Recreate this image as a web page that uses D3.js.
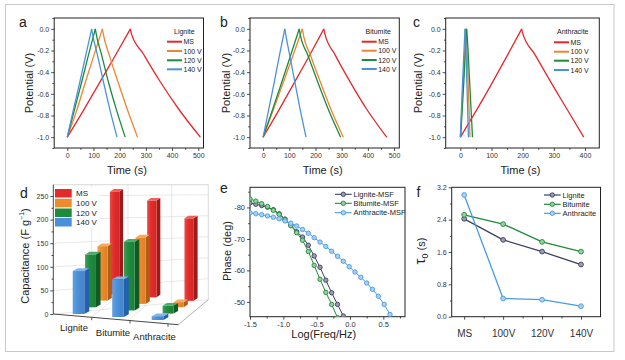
<!DOCTYPE html>
<html><head><meta charset="utf-8">
<script src="https://cdn.jsdelivr.net/npm/d3@7"></script>
<style>body{margin:0;background:#fff}</style>
</head><body>
<svg id="c" width="625" height="360" xmlns="http://www.w3.org/2000/svg"></svg>
<script>
// ---------------- DATA ----------------
const gcdLabels = ["MS", "100 V", "120 V", "140 V"];
// [time (s), potential (V)]
const ligMS  = [[0,-1],[60,-0.76],[120,-0.51],[180,-0.26],[241,0],[244,-0.04],[290,-0.23],[350,-0.47],[425,-0.74],[508,-1]];
const lig100 = [[0,-1],[35,-0.76],[68,-0.5],[101,-0.25],[134,0],[136,-0.03],[160,-0.24],[195,-0.5],[230,-0.75],[268,-1]];
const lig120 = [[0,-1],[27,-0.75],[54,-0.5],[80,-0.25],[107,0],[109,-0.03],[131,-0.24],[158,-0.5],[188,-0.75],[221,-1]];
const lig140 = [[0,-1],[23,-0.75],[47,-0.5],[70,-0.25],[93,0],[95,-0.03],[115,-0.24],[139,-0.5],[163,-0.75],[190,-1]];
const bitMS  = [[0,-1],[58,-0.76],[116,-0.51],[174,-0.26],[232,0],[235,-0.04],[275,-0.24],[330,-0.48],[395,-0.74],[472,-1]];
const bit100 = [[0,-1],[37,-0.76],[75,-0.51],[112,-0.26],[150,0],[152,-0.03],[182,-0.25],[220,-0.5],[260,-0.75],[306,-1]];
const bit120 = [[0,-1],[34,-0.76],[69,-0.51],[103,-0.26],[138,0],[140,-0.03],[172,-0.25],[210,-0.5],[250,-0.75],[296,-1]];
const bit140 = [[0,-1],[21,-0.75],[42,-0.5],[62,-0.25],[83,0],[85,-0.03],[102,-0.25],[122,-0.5],[142,-0.75],[164,-1]];
const antMS  = [[0,-1],[50,-0.76],[100,-0.51],[150,-0.25],[197,0],[199,-0.03],[240,-0.24],[290,-0.49],[342,-0.74],[396,-1]];
const ant100 = [[0,-1],[9,-0.5],[18,0],[19,-0.03],[25,-0.5],[31,-1]];
const ant120 = [[1,-1],[11,-0.5],[20,0],[21,-0.03],[30,-0.5],[39,-1]];
const ant140 = [[0,-1],[7,-0.5],[15,0],[16,-0.03],[21,-0.5],[26,-1]];

// Panel d: specific capacitance (F g-1)
const capCategories = ["Lignite", "Bitumite", "Anthracite"];
const capSeries = ["MS", "100 V", "120 V", "140 V"];
const capMS  = [264, 250, 213];
const cap100 = [131, 160, 12];
const cap120 = [119, 155, 18];
const cap140 = [91, 80, 8];

// Panel e: Bode phase [log(freq), phase deg]
const phaseLignite = [[-1.5,-81.4],[-1.4125,-81.0],[-1.325,-80.6],[-1.2375,-80.1],[-1.15,-79.3],[-1.0625,-78.0],[-0.975,-76.3],[-0.8875,-74.4],[-0.8,-72.3],[-0.7125,-70.6],[-0.625,-68.0],[-0.5375,-64.6],[-0.45,-61.0],[-0.3625,-56.9],[-0.275,-52.9],[-0.1875,-49.2],[-0.1,-45.5]];
const phaseBitumite = [[-1.5,-82.7],[-1.4125,-82.0],[-1.325,-81.2],[-1.2375,-80.3],[-1.15,-79.1],[-1.0625,-77.8],[-0.975,-76.2],[-0.8875,-74.2],[-0.8,-72.0],[-0.7125,-69.6],[-0.625,-66.0],[-0.5375,-61.6],[-0.45,-57.2],[-0.3625,-53.0],[-0.275,-49.2],[-0.1875,-45.0]];
const phaseAnthracite = [[-1.5,-78.3],[-1.4125,-78.0],[-1.325,-77.7],[-1.2375,-77.3],[-1.15,-76.9],[-1.0625,-76.4],[-0.975,-75.7],[-0.8875,-75.0],[-0.8,-74.1],[-0.7125,-73.0],[-0.625,-71.8],[-0.5375,-70.4],[-0.45,-69.0],[-0.3625,-67.6],[-0.275,-66.1],[-0.1875,-64.5],[-0.1,-62.9],[-0.0125,-61.2],[0.075,-59.5],[0.1625,-57.8],[0.25,-56.0],[0.3375,-54.0],[0.425,-51.8],[0.5125,-49.2],[0.6,-46.0]];
const phaseLabels = ["Lignite-MSF", "Bitumite-MSF", "Anthracite-MSF"];

// Panel f: relaxation time tau0 (s)
const tauCats = ["MS", "100V", "120V", "140V"];
const tauLignite = [2.42, 1.9, 1.61, 1.29];
const tauBitumite = [2.52, 2.29, 1.85, 1.61];
const tauAnthracite = [3.01, 0.45, 0.42, 0.26];
const tauLabels = ["Lignite", "Bitumite", "Anthracite"];

// ---------------- STYLE ----------------
const FONT = 'Arial, "Liberation Sans", Helvetica, sans-serif';
const gcdColors = ["#e5282c", "#ee8530", "#1e8a3b", "#4b93d8"];
const capFront = ["#e22b2a", "#ef8a2c", "#1e8b3c", "#4a8fd9"];
const capSide  = ["#a01818", "#b25c14", "#0f5a25", "#2460b0"];
const capTop   = ["#f06055", "#f5aa62", "#4aaa68", "#80b4ec"];
const eColors = ["#3d4060", "#23893a", "#4a9be2"];
const eFill = ["#9a9cb5", "#8fd39f", "#a8d0f4"];

const svg = d3.select("#c");
svg.append("rect").attr("x", 5.5).attr("y", 4.5).attr("width", 608.5).attr("height", 347)
  .attr("fill", "none").attr("stroke", "#c9c9c9").attr("stroke-width", 1);
const defs = svg.append("defs");

function txt(g, x, y, s, fs, anchor, extra) {
  const t = g.append("text").attr("x", x).attr("y", y).text(s)
    .attr("font-family", FONT).attr("font-size", fs).attr("fill", "#222")
    .attr("text-anchor", anchor || "start");
  return t;
}
function vtxt(g, x, y, s, fs) {
  return g.append("text").attr("transform", `translate(${x},${y}) rotate(-90)`)
    .attr("text-anchor", "middle").attr("dominant-baseline", "central")
    .attr("font-family", FONT).attr("font-size", fs).attr("fill", "#222").text(s);
}
function styleAxis(sel, fs) {
  sel.select(".domain").remove();
  sel.selectAll("line").attr("stroke", "#222").attr("stroke-width", 0.8);
  sel.selectAll("text").attr("font-size", fs).attr("fill", "#333").attr("font-family", FONT);
}
function axes(g, xs, ys, p) {
  const [x0, x1] = xs.range(); const [yb, yt] = ys.range();
  if (p.xMinor) g.append("g").attr("transform", `translate(0,${yb})`)
    .call(d3.axisBottom(xs).tickValues(p.xMinor).tickSize(1.8).tickFormat("")).call(s => styleAxis(s, p.fs));
  g.append("g").attr("transform", `translate(0,${yb})`)
    .call(d3.axisBottom(xs).tickValues(p.xMajor).tickSize(3).tickPadding(p.xPad || 2).tickFormat(p.xFmt))
    .call(s => styleAxis(s, p.xfs || p.fs));
  if (p.yMinor) g.append("g").attr("transform", `translate(${x0},0)`)
    .call(d3.axisLeft(ys).tickValues(p.yMinor).tickSize(1.8).tickFormat("")).call(s => styleAxis(s, p.fs));
  g.append("g").attr("transform", `translate(${x0},0)`)
    .call(d3.axisLeft(ys).tickValues(p.yMajor).tickSize(3).tickPadding(2).tickFormat(p.yFmt))
    .call(s => styleAxis(s, p.fs));
  g.append("rect").attr("x", x0).attr("y", yt).attr("width", x1 - x0).attr("height", yb - yt)
    .attr("fill", "none").attr("stroke", "#222").attr("stroke-width", 1);
}
let clipId = 0;
function clip(x0, y0, x1, y1) {
  const id = "clip" + (clipId++);
  defs.append("clipPath").attr("id", id).append("rect").attr("x", x0).attr("y", y0).attr("width", x1 - x0).attr("height", y1 - y0);
  return `url(#${id})`;
}
const f1 = v => v.toFixed(1);

// ---------------- PANELS a-c ----------------
function gcdPanel(cfg) {
  const g = svg.append("g");
  const xs = d3.scaleLinear().domain(cfg.xDomain).range([cfg.x0, cfg.x1]);
  const ys = d3.scaleLinear().domain([-1.1, 0.1]).range([148, 18]);
  axes(g, xs, ys, {
    xMajor: cfg.xMajor, xMinor: cfg.xMinor, xFmt: d3.format("d"),
    yMajor: [-1, -0.8, -0.6, -0.4, -0.2, 0], yMinor: [-1.1, -0.9, -0.7, -0.5, -0.3, -0.1, 0.1], yFmt: f1, fs: 7
  });
  const pg = g.append("g").attr("clip-path", clip(cfg.x0, 18, cfg.x1, 148));
  const line = d3.line().x(d => xs(d[0])).y(d => ys(d[1])).curve(d3.curveMonotoneX);
  cfg.series.forEach((data, i) => {
    const k = d3.maxIndex(data, d => d[1]);
    [data.slice(0, k + 1), data.slice(k)].forEach(seg => {
      pg.append("path").attr("d", line(seg)).attr("fill", "none")
        .attr("stroke", gcdColors[i]).attr("stroke-width", 1.3);
    });
  });
  // legend
  txt(g, cfg.lt, 33.5, cfg.title, 7);
  gcdLabels.forEach((lab, i) => {
    const y = cfg.ly[i];
    g.append("line").attr("x1", cfg.lx).attr("x2", cfg.lx + 15).attr("y1", y).attr("y2", y)
      .attr("stroke", gcdColors[i]).attr("stroke-width", 2);
    txt(g, cfg.lx + 16.5, y + 2.5, lab, 7);
  });
  txt(g, cfg.letterX, 27, cfg.letter, 14);
  vtxt(g, cfg.yLabX, 83, "Potential (V)", 11);
  txt(g, (cfg.x0 + cfg.x1) / 2 - 2, 173.5, "Time (s)", 11, "middle");
}
gcdPanel({ x0: 54.2, x1: 203.5, xDomain: [-50, 520], xMajor: [0, 100, 200, 300, 400, 500], xMinor: [50, 150, 250, 350, 450],
  series: [ligMS, lig100, lig120, lig140], title: "Lignite", lt: 174, lx: 167, ly: [41.7, 51, 60.3, 69.3],
  letter: "a", letterX: 19, yLabX: 28.5 });
gcdPanel({ x0: 250, x1: 399.3, xDomain: [-50, 520], xMajor: [0, 100, 200, 300, 400, 500], xMinor: [50, 150, 250, 350, 450],
  series: [bitMS, bit100, bit120, bit140], title: "Bitumite", lt: 365.5, lx: 361.7, ly: [41.7, 50.7, 60, 69],
  letter: "b", letterX: 220, yLabX: 225.5 });
gcdPanel({ x0: 445.7, x1: 599.3, xDomain: [-47, 446], xMajor: [0, 100, 200, 300, 400], xMinor: [50, 150, 250, 350],
  series: [antMS, ant100, ant120, ant140], title: "Anthracite", lt: 557, lx: 554, ly: [42.3, 51.7, 60.7, 70],
  letter: "c", letterX: 413, yLabX: 418 });

// ---------------- PANEL d (3D bars) ----------------
(function () {
  const g = svg.append("g");
  const capY = d3.scaleLinear().domain([0, 250]).range([314, 196]);
  const axX = 53.3, topY = 184.7, rightX = 208.3, rightBot = 299.7;
  const grid = "#d9d9d9";
  // back-wall grid
  const wallY = d3.scaleLinear().domain([0, capY.invert(topY)]).range([rightBot, topY]);
  [50, 100, 150, 200, 250].forEach(v => {
    g.append("line").attr("x1", axX).attr("x2", rightX).attr("y1", capY(v)).attr("y2", wallY(v))
      .attr("stroke", grid).attr("stroke-width", 0.6);
  });
  const botAt = d3.scaleLinear().domain([axX, rightX]).range([314, rightBot]);
  [91.7, 128, 171.7].forEach(x => {
    g.append("line").attr("x1", x).attr("x2", x).attr("y1", topY).attr("y2", botAt(x))
      .attr("stroke", grid).attr("stroke-width", 0.6);
  });
  g.append("line").attr("x1", axX).attr("x2", rightX).attr("y1", topY).attr("y2", topY).attr("stroke", "#c8c8c8").attr("stroke-width", 0.7);
  g.append("line").attr("x1", rightX).attr("x2", rightX).attr("y1", topY).attr("y2", rightBot).attr("stroke", "#c8c8c8").attr("stroke-width", 0.7);
  g.append("line").attr("x1", axX).attr("x2", rightX).attr("y1", 314).attr("y2", rightBot).attr("stroke", grid).attr("stroke-width", 0.6);
  // floor edges
  g.append("line").attr("x1", 178.3).attr("x2", rightX).attr("y1", 324.7).attr("y2", rightBot).attr("stroke", "#9a9a9a").attr("stroke-width", 0.8);
  [[91.7], [128], [160]].forEach(([x]) => {
    const fy = 314 + (x - axX) * (324.7 - 314) / (178.3 - axX);
    g.append("line").attr("x1", x).attr("x2", x + 30).attr("y1", fy).attr("y2", fy - 25).attr("stroke", grid).attr("stroke-width", 0.6);
  });

  // bars
  const catX = d3.scaleLinear().domain([0, 2]).range([72.7, 151.7]);
  const catYb = d3.scaleLinear().domain([0, 2]).range([314, 320]);
  const vals = [capMS, cap100, cap120, cap140];
  const bars = [];
  vals.forEach((arr, s) => {
    const d = 3 - s; // depth: MS at back
    arr.forEach((v, i) => bars.push({ s, d, i, v }));
  });
  bars.sort((a, b) => b.d - a.d || a.i - b.i);
  capFront.forEach((c, s) => {
    const lg = defs.append("linearGradient").attr("id", "bg" + s).attr("x1", 0).attr("x2", 1).attr("y1", 0).attr("y2", 0);
    lg.append("stop").attr("offset", "0%").attr("stop-color", d3.interpolateRgb(c, "#fff")(0.15));
    lg.append("stop").attr("offset", "45%").attr("stop-color", c);
    lg.append("stop").attr("offset", "100%").attr("stop-color", d3.interpolateRgb(c, "#000")(0.08));
  });
  bars.forEach(b => {
    const bx = catX(b.i) + b.d * (12.4 - 0.74 * b.i);
    const by = catYb(b.i) - b.d * (6.7 - 0.15 * b.i);
    const w = 11.6 - 0.75 * b.d;
    const h = (capY(0) - capY(b.v)) * (1 - 0.06 * b.d);
    const ddx = 5 - 0.4 * b.d, ddy = -2.7;
    const ty = by - h;
    g.append("polygon").attr("points", [[bx + w, by], [bx + w + ddx, by + ddy], [bx + w + ddx, ty + ddy], [bx + w, ty]].join(" "))
      .attr("fill", capSide[b.s]);
    g.append("polygon").attr("points", [[bx, ty], [bx + w, ty], [bx + w + ddx, ty + ddy], [bx + ddx, ty + ddy]].join(" "))
      .attr("fill", capTop[b.s]);
    g.append("rect").attr("x", bx).attr("y", ty).attr("width", w).attr("height", h).attr("fill", `url(#bg${b.s})`);
  });

  // front edge (x axis)
  g.append("line").attr("x1", axX).attr("x2", 178.3).attr("y1", 314).attr("y2", 324.7).attr("stroke", "#333").attr("stroke-width", 0.9);
  [91.7, 130, 168].forEach(x => {
    const fy = 314 + (x - axX) * (324.7 - 314) / (178.3 - axX);
    g.append("line").attr("x1", x).attr("x2", x).attr("y1", fy).attr("y2", fy + 3).attr("stroke", "#333").attr("stroke-width", 0.8);
  });
  // y axis
  g.append("line").attr("x1", axX).attr("x2", axX).attr("y1", topY).attr("y2", 314).attr("stroke", "#333").attr("stroke-width", 0.9);
  g.append("g").attr("transform", `translate(${axX},0)`)
    .call(d3.axisLeft(capY).tickValues([25, 75, 125, 175, 225]).tickSize(1.8).tickFormat("")).call(s => styleAxis(s, 7));
  g.append("g").attr("transform", `translate(${axX},0)`)
    .call(d3.axisLeft(capY).tickValues([0, 50, 100, 150, 200, 250]).tickSize(3).tickPadding(2).tickFormat(d3.format("d")))
    .call(s => styleAxis(s, 7));
  // category labels
  const labPos = [[74, 331, 0], [113, 336, 0], [154.5, 339.5, 0]];
  capCategories.forEach((c, i) => txt(g, labPos[i][0], labPos[i][1], c, 9.5, "middle"));
  // legend
  g.append("rect").attr("x", 54).attr("y", 187.5).attr("width", 45).attr("height", 40).attr("fill", "#fff");
  const ly = [189, 198.8, 208.5, 218];
  capSeries.forEach((s, i) => {
    g.append("rect").attr("x", 55).attr("y", ly[i]).attr("width", 16.7).attr("height", 8.5).attr("fill", capFront[i]);
    txt(g, 76, ly[i] + 7.2, s, 8);
  });
  txt(g, 20, 198, "d", 14);
  const yl = vtxt(g, 24.5, 256, "", 11);
  yl.append("tspan").text("Capacitance (F g");
  yl.append("tspan").text("\u22121").attr("font-size", 7).attr("dy", -4);
  yl.append("tspan").text(")").attr("dy", 4);
})();

// ---------------- PANEL e ----------------
(function () {
  const g = svg.append("g");
  const x0 = 250, x1 = 405, y0 = 187.3, y1 = 316.7;
  const xs = d3.scaleLinear().domain([-1.5, 0.825]).range([x0, x1]);
  const ys = d3.scaleLinear().domain([-45.3, -86.4]).range([y1, y0]);
  axes(g, xs, ys, {
    xMajor: [-1.5, -1, -0.5, 0, 0.5], xMinor: [-1.25, -0.75, -0.25, 0.25, 0.75], xFmt: f1,
    yMajor: [-80, -70, -60, -50], yMinor: [-85, -75, -65, -55], yFmt: d3.format("d"), fs: 7.5
  });
  g.selectAll("text").each(function () { const t = d3.select(this); t.text(t.text().replace("\u2212", "-")); });
  const pg = g.append("g").attr("clip-path", clip(x0, y0, x1, y1));
  const line = d3.line().x(d => xs(d[0])).y(d => ys(d[1]));
  [phaseLignite, phaseBitumite, phaseAnthracite].forEach((data, i) => {
    pg.append("path").attr("d", line(data)).attr("fill", "none").attr("stroke", eColors[i]).attr("stroke-width", 1);
    pg.selectAll(null).data(data).enter().append("circle")
      .attr("cx", d => xs(d[0])).attr("cy", d => ys(d[1])).attr("r", 2.2)
      .attr("fill", eFill[i]).attr("stroke", eColors[i]).attr("stroke-width", 0.9);
  });
  const ly = [194.3, 203.3, 212.7];
  phaseLabels.forEach((lab, i) => {
    g.append("line").attr("x1", 335).attr("x2", 351.7).attr("y1", ly[i]).attr("y2", ly[i]).attr("stroke", eColors[i]).attr("stroke-width", 1.1);
    g.append("circle").attr("cx", 343.3).attr("cy", ly[i]).attr("r", 2.2).attr("fill", eFill[i]).attr("stroke", eColors[i]).attr("stroke-width", 0.9);
    txt(g, 353.5, ly[i] + 2.6, lab, 7.5);
  });
  txt(g, 220, 193, "e", 14);
  vtxt(g, 227, 251, "Phase (deg)", 11);
  txt(g, 323.7, 337.5, "Log(Freq/Hz)", 11, "middle");
})();

// ---------------- PANEL f ----------------
(function () {
  const g = svg.append("g");
  const x0 = 451.7, x1 = 600.5, y0 = 187.3, y1 = 316.7;
  const xs = d3.scaleLinear().domain([-0.32, 3.5]).range([x0, x1]);
  const ys = d3.scaleLinear().domain([0, 3.2]).range([y1, y0]);
  axes(g, xs, ys, {
    xMajor: [0, 1, 2, 3], xMinor: [0.5, 1.5, 2.5], xFmt: i => tauCats[i], xPad: 10, xfs: 10,
    yMajor: [0, 0.8, 1.6, 2.4, 3.2], yMinor: [0.4, 1.2, 2.0, 2.8], yFmt: f1, fs: 7
  });
  const line = d3.line().x((d, i) => xs(i)).y(d => ys(d));
  [tauLignite, tauBitumite, tauAnthracite].forEach((data, k) => {
    g.append("path").attr("d", line(data)).attr("fill", "none").attr("stroke", eColors[k]).attr("stroke-width", 1.3);
    g.selectAll(null).data(data).enter().append("circle")
      .attr("cx", (d, i) => xs(i)).attr("cy", d => ys(d)).attr("r", 2.4)
      .attr("fill", eFill[k]).attr("stroke", eColors[k]).attr("stroke-width", 0.9);
  });
  const ly = [195, 204.3, 213.3];
  tauLabels.forEach((lab, i) => {
    g.append("line").attr("x1", 544).attr("x2", 560.7).attr("y1", ly[i]).attr("y2", ly[i]).attr("stroke", eColors[i]).attr("stroke-width", 1.2);
    g.append("circle").attr("cx", 552.3).attr("cy", ly[i]).attr("r", 2.2).attr("fill", eFill[i]).attr("stroke", eColors[i]).attr("stroke-width", 0.9);
    txt(g, 562.5, ly[i] + 2.6, lab, 7.5);
  });
  txt(g, 416.5, 196.7, "f", 14);
  const yl = g.append("text").attr("transform", "translate(425,251) rotate(-90)").attr("text-anchor", "middle")
    .attr("font-family", FONT).attr("fill", "#222");
  yl.append("tspan").text("\u03c4").attr("font-size", 15);
  yl.append("tspan").text("0").attr("font-size", 9).attr("dy", 3);
  yl.append("tspan").text(" (s)").attr("font-size", 11).attr("dy", -3);
})();
</script>
</body></html>
